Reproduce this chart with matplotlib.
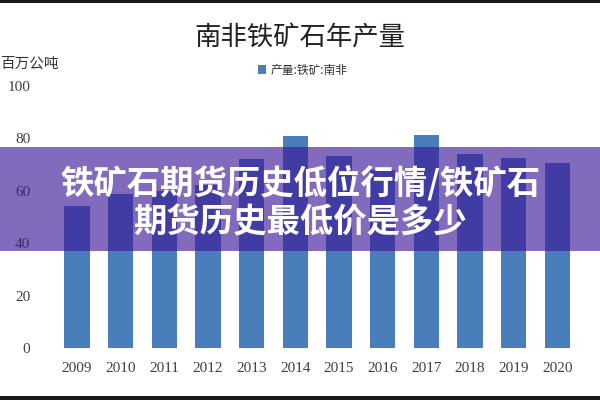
import matplotlib
matplotlib.use('Agg')
import matplotlib.pyplot as plt
from matplotlib.patches import Rectangle

plt.rcParams['font.family'] = ['Noto Sans CJK SC', 'DejaVu Sans']

# South Africa iron ore output, million tonnes
years = ['2009', '2010', '2011', '2012', '2013', '2014',
         '2015', '2016', '2017', '2018', '2019', '2020']
output = [54.3, 58.6, 60.0, 62.2, 72.0, 80.8, 73.3, 68.0, 81.3, 73.9, 72.4, 70.6]

title = '南非铁矿石年产量'
series_name = '产量:铁矿:南非'
unit_label = '百万公吨'
banner_lines = ['铁矿石期货历史低位行情/铁矿石', '期货历史最低价是多少']

fig = plt.figure(figsize=(6, 4), dpi=100)
ax = fig.add_axes([0.092, 0.13, 0.873, 0.655])

ax.bar(range(len(years)), output, width=0.58, color='#4A7EBB', label=series_name)
ax.set_xlim(-0.5, len(years) - 0.5)
ax.set_ylim(0, 100)
ax.set_yticks([0, 20, 40, 60, 80, 100])
ax.set_xticks(range(len(years)))
ax.set_xticklabels(years)
for lab in ax.get_xticklabels() + ax.get_yticklabels():
    lab.set_fontfamily('Liberation Serif')
    lab.set_fontsize(11)
    lab.set_color('#404040')
ax.tick_params(length=0, pad=10)
ax.tick_params(axis='y', pad=18)
for s in ax.spines.values():
    s.set_visible(False)

fig.text(0.5, 1 - 38 / 400, title, ha='center', va='center', fontsize=19, color='#222222')
fig.text(0.0, 1 - 64 / 400, unit_label, ha='left', va='center', fontsize=10.5, color='#333333')
ax.legend(loc='center', bbox_to_anchor=(0.505, 1 - 70 / 400), bbox_transform=fig.transFigure,
          frameon=False, fontsize=8.5, handlelength=0.7, handleheight=0.7,
          handletextpad=0.4, labelcolor='#333333')

# purple banner with headline text across the middle
fig.patches.append(Rectangle((0, 1 - 251 / 400), 1, 104 / 400, transform=fig.transFigure,
                             facecolor='#3C1896', alpha=0.64, zorder=5))
fig.text(0.5, 1 - 184 / 400, banner_lines[0], ha='center', va='center', fontsize=24,
         fontweight='bold', color='white', zorder=6)
fig.text(0.5, 1 - 223 / 400, banner_lines[1], ha='center', va='center', fontsize=24,
         fontweight='bold', color='white', zorder=6)

# dark frame strips at top and bottom
fig.patches.append(Rectangle((0, 1 - 3 / 400), 1, 3 / 400, transform=fig.transFigure,
                             facecolor='#1a1a1a', zorder=7))
fig.patches.append(Rectangle((0, 0), 1, 4 / 400, transform=fig.transFigure,
                             facecolor='#1a1a1a', zorder=7))

fig.savefig('out.png', dpi=100)
